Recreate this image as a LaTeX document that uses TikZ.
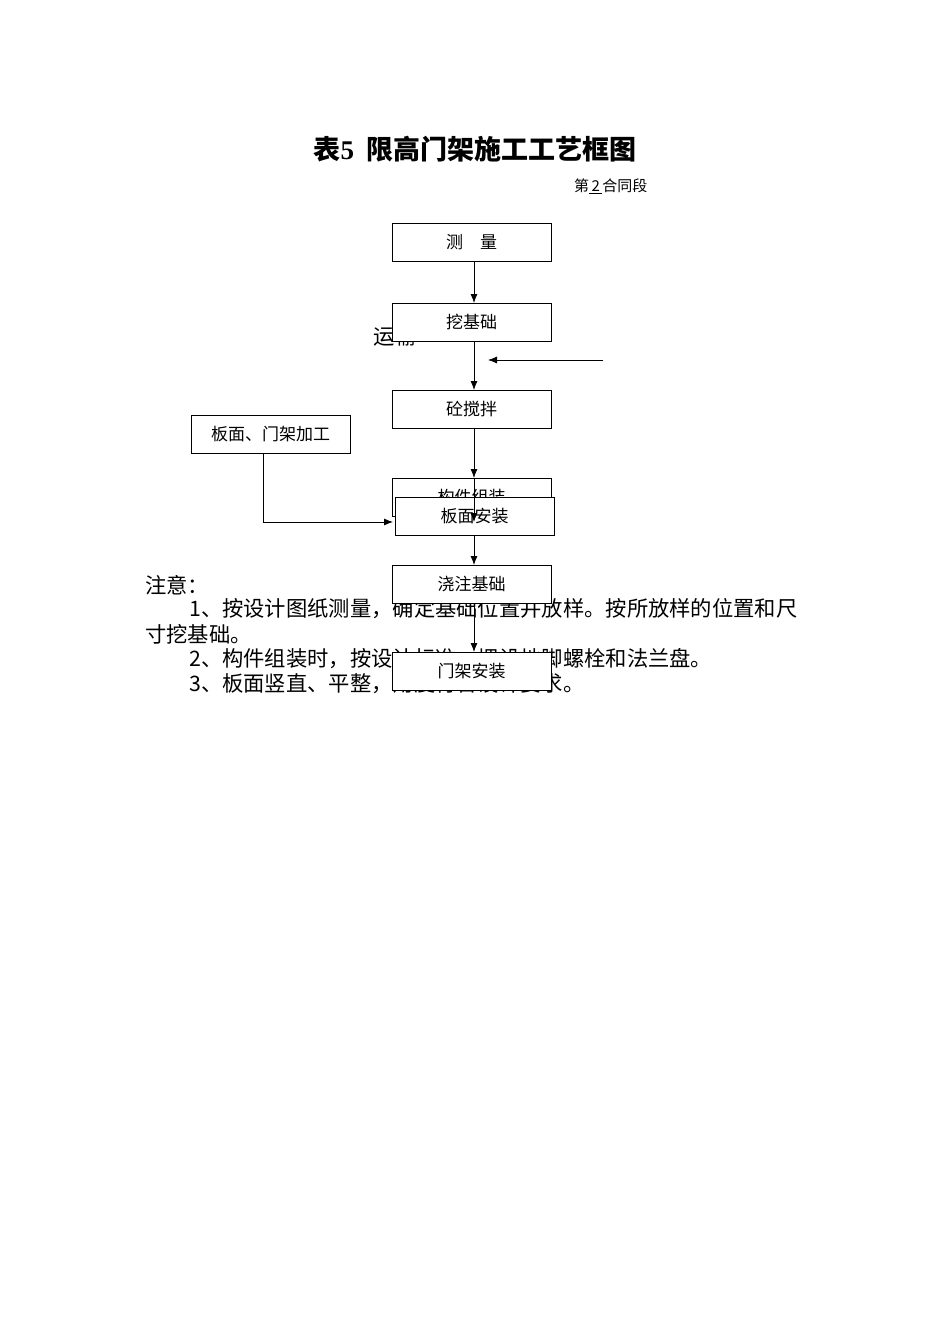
\documentclass[tikz,border=0pt]{standalone}
\usepackage{fontspec}
\usetikzlibrary{arrows.meta}
\setmainfont{Liberation Serif}
\newfontfamily\cjk{Noto Sans CJK SC}
\begin{document}
\begin{tikzpicture}[x=1pt,y=-1pt,
 box/.style={draw,fill=white,line width=0.8pt,minimum width=159pt,minimum height=38pt,inner sep=0pt,font=\cjk\fontsize{17}{17}\selectfont},
 arr/.style={-{Latex[length=9pt,width=7pt]},line width=0.8pt},
 note/.style={anchor=west,inner sep=0pt,font=\cjk\fontsize{21.3}{22}\selectfont}]
\useasboundingbox (0,0) rectangle (950,1344);
\node[font=\cjk\bfseries\fontsize{27}{27}\selectfont] (title) at (475,149) {表{\rmfamily\bfseries 5}\ \ 限高门架施工工艺框图};
\node[anchor=east,font=\cjk\fontsize{15}{15}\selectfont] (sec) at (651,186) {第\underline{\,2\,}合同段};
\node[note] (yunshu) at (373,336) {运输};
\node[note] (n0) at (145,585) {注意：};
\node[note] (n1) at (189,609) {1、按设计图纸测量，确定基础位置并放样。按所放样的位置和尺};
\node[note] (n1b) at (145,634) {寸挖基础。};
\node[note] (n2) at (189,659) {2、构件组装时，按设计标准，埋设地脚螺栓和法兰盘。};
\node[note] (n3) at (189,684) {3、板面竖直、平整，角度符合设计要求。};
\node[box] (a) at (471.5,242) {测\quad 量};
\node[box] (b) at (471.5,322) {挖基础};
\node[box] (c) at (471.5,409.5) {砼搅拌};
\node[box] (d) at (471.5,497) {构件组装};
\node[box] (e) at (474.5,516) {板面安装};
\node[box] (f) at (471.5,584) {浇注基础};
\node[box] (g) at (471.5,671) {门架安装};
\node[box] (p) at (270.5,434) {板面、门架加工};
\coordinate (r1) at (603,360);
\coordinate (r2) at (488,360);
\coordinate (k) at (263,522);
\draw[arr] (r1) -- (r2);
\draw[arr] (474,261) -- (474,303);
\draw[arr] (474,341) -- (474,390);
\draw[arr] (474,429) -- (474,478);
\draw[arr] (474,478) -- (474,522);
\draw[arr] (474,535) -- (474,565);
\draw[arr] (474,603) -- (474,652);
\draw[arr] (263,453) -- (k) -- (393,522);
\end{tikzpicture}
\end{document}
